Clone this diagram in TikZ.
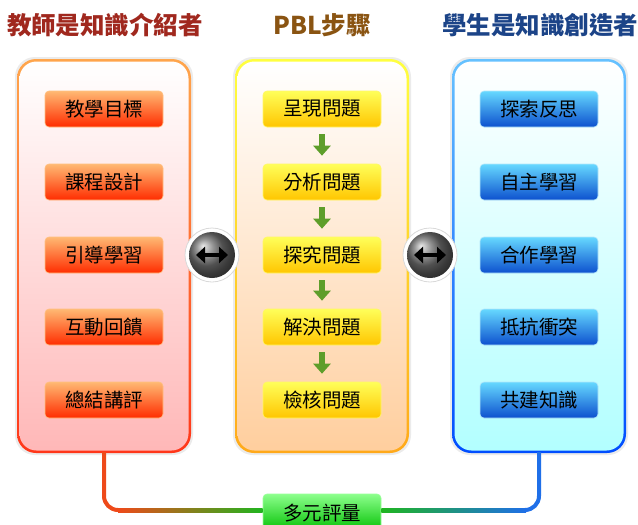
\documentclass[tikz,border=0pt]{standalone}
\usepackage{fontspec}
\setmainfont{Noto Sans CJK TC}
\usetikzlibrary{arrows.meta,calc}
\definecolor{tL}{HTML}{A0281E}
\definecolor{tM}{HTML}{8A5412}
\definecolor{tR}{HTML}{1C4488}
\definecolor{ga}{HTML}{5E9E2A}
\definecolor{cR}{HTML}{EE4A1A}
\definecolor{cG}{HTML}{1FB51F}
\definecolor{cB}{HTML}{1F6FE8}
\begin{document}
\begin{tikzpicture}[x=1pt,y=-1pt,
  title/.style={font=\fontsize{24.5}{26}\selectfont\bfseries, inner sep=0pt},
  box/.style={rounded corners=4pt, minimum width=118pt, minimum height=36pt, inner sep=0pt,
    font=\fontsize{19.5}{21}\selectfont, text=black},
  obox/.style={box, top color=orange!55!white, middle color=orange!70!red, bottom color=red!65!orange, draw=orange!50!white, line width=0.6pt},
  ybox/.style={box, top color=yellow!65!white, middle color=yellow!85!orange, bottom color=orange!45!yellow, draw=yellow!60!white, line width=0.6pt},
  bbox/.style={box, top color=blue!25!cyan!60!white, middle color=blue!55!cyan!70, bottom color=blue!65!cyan!80!black!95, draw=cyan!30!white, line width=0.6pt},
  gbox/.style={box, top color=green!45!white, middle color=green!85!black, bottom color=green!75!black, draw=green!40!white, line width=0.6pt},
  garrow/.style={line width=6pt, color=ga, -{Triangle[length=10pt,width=17pt]}, shorten <=7pt, shorten >=8pt},
  ring/.style={circle, minimum size=54pt, inner sep=0pt, fill=white, draw=black!15, line width=0.8pt},
  ball/.style={circle, minimum size=46pt, inner sep=0pt, ball color=black!55},
  dbl/.style={line width=3.6pt, black, {Triangle[length=9pt,width=16pt]}-{Triangle[length=9pt,width=16pt]}},
  conn/.style={line width=4pt}
]
\useasboundingbox (0,0) rectangle (638,525);
\fill[white] (0,0) rectangle (638,525);

% titles
\node[title, text=tL] (tl) at (105,25) {教師是知識介紹者};
\node[title, text=tM] (tm) at (322,25) {PBL步驟};
\node[title, text=tR] (tr) at (540,25) {學生是知識創造者};

% panels: halo, border, fill
\foreach \x/\bt/\bb/\ft/\fb in {18/orange!70!white/red!75!orange!90/white/red!28!white,
                                236/yellow!75!white/orange!75!yellow!90/white/orange!38!white,
                                453/cyan!60!blue!60!white/blue!70!cyan/white/cyan!30!white}{
  \fill[black!8, rounded corners=20pt] (\x-3,57) rectangle (\x+175,455);
  \shade[rounded corners=19pt, top color=\bt, bottom color=\bb] (\x-1,59) rectangle (\x+173,453);
  \shade[rounded corners=17pt, top color=\ft, bottom color=\fb] (\x+1.5,61.5) rectangle (\x+170.5,450.5);
}
\node[inner sep=0pt, minimum width=172pt, minimum height=392pt] (PL) at (104,256) {};
\node[inner sep=0pt, minimum width=172pt, minimum height=392pt] (PM) at (322,256) {};
\node[inner sep=0pt, minimum width=172pt, minimum height=392pt] (PR) at (539,256) {};

% left boxes
\node[obox] (l1) at (104,109) {教學目標};
\node[obox] (l2) at (104,182) {課程設計};
\node[obox] (l3) at (104,255) {引導學習};
\node[obox] (l4) at (104,327) {互動回饋};
\node[obox] (l5) at (104,400) {總結講評};

% middle boxes
\node[ybox] (m1) at (322,109) {呈現問題};
\node[ybox] (m2) at (322,182) {分析問題};
\node[ybox] (m3) at (322,255) {探究問題};
\node[ybox] (m4) at (322,327) {解決問題};
\node[ybox] (m5) at (322,400) {檢核問題};
\draw[garrow] (m1.south) -- (m2.north);
\draw[garrow] (m2.south) -- (m3.north);
\draw[garrow] (m3.south) -- (m4.north);
\draw[garrow] (m4.south) -- (m5.north);

% right boxes
\node[bbox] (r1) at (539,109) {探索反思};
\node[bbox] (r2) at (539,182) {自主學習};
\node[bbox] (r3) at (539,255) {合作學習};
\node[bbox] (r4) at (539,327) {抵抗衝突};
\node[bbox] (r5) at (539,400) {共建知識};

% double-arrow balls
\node[ring] (c1r) at (212,255) {};
\node[ball] (c1) at (212,255) {};
\draw[dbl] ([xshift=-16pt]c1.center) -- ([xshift=16pt]c1.center);
\node[ring] (c2r) at (430,255) {};
\node[ball] (c2) at (430,255) {};
\draw[dbl] ([xshift=-16pt]c2.center) -- ([xshift=16pt]c2.center);

% evaluation box
\node[gbox, minimum height=38pt] (ev) at (322,513) {多元評量};

% connectors
\coordinate (lc) at (118,510);
\coordinate (rc) at (526,510);
\draw[conn, cR, rounded corners=14pt] (PL.south) |- ([xshift=1pt]lc);
\shade[left color=cR, right color=cG] ([yshift=-2pt]lc) rectangle ([yshift=2pt]ev.west |- lc);
\draw[conn, cB, rounded corners=14pt] (PR.south) |- ([xshift=-1pt]rc);
\shade[left color=cG, right color=cB] ([yshift=-2pt]ev.east |- rc) rectangle ([yshift=2pt]rc);
\end{tikzpicture}
\end{document}
